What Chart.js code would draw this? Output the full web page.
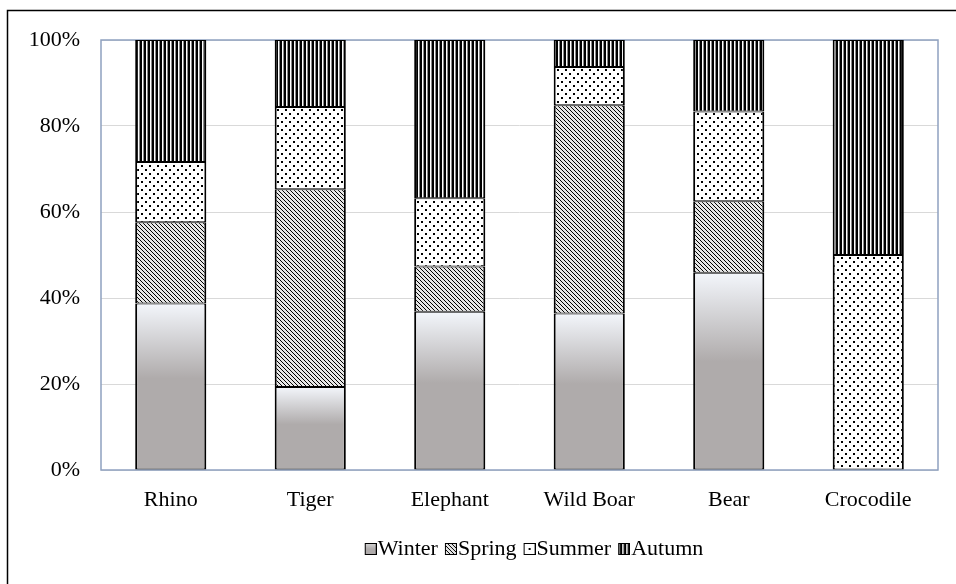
<!DOCTYPE html>
<html>
<head>
<meta charset="utf-8">
<script src="https://cdn.jsdelivr.net/npm/chart.js@4"></script>
<style>
  html, body { margin: 0; padding: 0; background: #fff; }
  #wrap { width: 956px; height: 584px; position: relative; }
</style>
</head>
<body>
<div id="wrap"><canvas id="c" width="956" height="584"></canvas></div>
<script>
const categories = ['Rhino', 'Tiger', 'Elephant', 'Wild Boar', 'Bear', 'Crocodile'];
const seriesNames = ['Winter', 'Spring', 'Summer', 'Autumn'];
const winter = [38.7, 19.3, 36.8, 36.4, 45.9, 0];
const spring = [18.9, 46.0, 10.5, 48.4, 16.6, 0];
const summer = [14.0, 19.1, 15.9, 8.9, 20.9, 50];
const autumn = [28.4, 15.6, 36.8, 6.3, 16.6, 50];
const yTicks = [0, 20, 40, 60, 80, 100];

const FONT = '"Liberation Serif", "Times New Roman", serif';
const FS = 22;
const GRAY = '#AFABAB';
const LIGHT = '#F3F6FB';

function makeTile(w, h, painter) {
  const c = document.createElement('canvas');
  c.width = w; c.height = h;
  const g = c.getContext('2d');
  painter(g, w, h);
  return c;
}
// Spring: dark downward diagonal on light gray
const springTile = makeTile(4, 4, (g) => {
  g.fillStyle = '#E6E6E6'; g.fillRect(0, 0, 4, 4);
  g.fillStyle = '#000';
  for (let y = 0; y < 4; y++) { g.fillRect(y % 4, y, 1, 1); }
});
// Summer: staggered dots on white
const summerTile = makeTile(8, 8, (g) => {
  g.fillStyle = '#fff'; g.fillRect(0, 0, 8, 8);
  g.fillStyle = '#000';
  g.fillRect(1, 1, 2, 2);
  g.fillRect(5, 5, 2, 2);
});
// Autumn: vertical lines
const autumnTile = makeTile(4, 4, (g) => {
  g.fillStyle = '#000'; g.fillRect(0, 0, 4, 4);
  g.fillStyle = '#fff'; g.fillRect(2, 0, 1, 4);
  g.fillStyle = '#8a8a8a'; g.fillRect(3, 0, 1, 4);
});

const cctx = document.getElementById('c').getContext('2d');
const springPat = cctx.createPattern(springTile, 'repeat');
const summerPat = cctx.createPattern(summerTile, 'repeat');
const autumnPat = cctx.createPattern(autumnTile, 'repeat');

function winterFill(ctx) {
  const chart = ctx.chart;
  if (!chart.chartArea || !chart.scales.y) return GRAY;
  const ys = chart.scales.y;
  const v = ctx.raw || 0;
  const top = ys.getPixelForValue(v);
  const bot = ys.getPixelForValue(0);
  if (bot - top < 1) return GRAY;
  const gr = chart.ctx.createLinearGradient(0, top, 0, bot);
  gr.addColorStop(0, LIGHT);
  gr.addColorStop(0.45, GRAY);
  gr.addColorStop(1, GRAY);
  return gr;
}

// legend images: transparent left padding, 12px box on the right
function legendImg(fillPainter) {
  return makeTile(22, 12, (g) => {
    fillPainter(g, 10, 0, 12, 12);
    g.strokeStyle = '#000'; g.lineWidth = 1;
    g.strokeRect(10.5, 0.5, 11, 11);
  });
}
const legendImgs = [
  legendImg((g, x, y, w, h) => {
    const gr = g.createLinearGradient(0, 0, 0, 12);
    gr.addColorStop(0, '#D9D9D9'); gr.addColorStop(0.5, GRAY); gr.addColorStop(1, GRAY);
    g.fillStyle = gr; g.fillRect(x, y, w, h);
  }),
  legendImg((g, x, y, w, h) => { g.fillStyle = g.createPattern(springTile, 'repeat'); g.fillRect(x, y, w, h); }),
  legendImg((g, x, y, w, h) => { g.fillStyle = '#fff'; g.fillRect(x, y, w, h); g.fillStyle = '#000'; g.fillRect(x + 5, y + 5, 2, 2); }),
  legendImg((g, x, y, w, h) => { g.fillStyle = g.createPattern(autumnTile, 'repeat'); g.fillRect(x, y, w, h); })
];

const barBorder = { left: 2, right: 2, top: 1, bottom: 1 };
function ds(label, data, bg) {
  return {
    label, data, backgroundColor: bg,
    borderColor: '#000', borderWidth: barBorder, borderSkipped: false,
    categoryPercentage: 0.51, barPercentage: 1
  };
}

const framePlugin = {
  id: 'frame',
  beforeDraw(chart) {
    const g = chart.ctx;
    g.save();
    g.fillStyle = '#fff'; g.fillRect(0, 0, chart.width, chart.height);
    g.strokeStyle = '#000'; g.lineWidth = 1.5;
    g.strokeRect(7.5, 10.5, 2000, 2000);
    g.restore();
  },
  beforeDatasetsDraw(chart) {
    const a = chart.chartArea, g = chart.ctx;
    g.save();
    g.strokeStyle = '#8FA1C0'; g.lineWidth = 1.5;
    g.strokeRect(a.left, a.top, a.right - a.left, a.bottom - a.top);
    g.restore();
  },
  afterLayout(chart) {
    const lg = chart.legend;
    if (lg) { const d = 65; lg.left += d; lg.right += d; }
  }
};

new Chart(document.getElementById('c'), {
  type: 'bar',
  data: {
    labels: categories,
    datasets: [
      ds(seriesNames[0], winter, winterFill),
      ds(seriesNames[1], spring, springPat),
      ds(seriesNames[2], summer, summerPat),
      ds(seriesNames[3], autumn, autumnPat)
    ]
  },
  options: {
    responsive: false,
    animation: false,
    devicePixelRatio: 1,
    layout: { padding: { left: 0, right: 18, top: 40, bottom: 14 } },
    plugins: {
      tooltip: { enabled: false },
      legend: {
        position: 'bottom',
        labels: {
          usePointStyle: true,
          boxWidth: 2,
          padding: 7,
          color: '#000',
          font: { family: FONT, size: FS },
          generateLabels(chart) {
            const items = Chart.defaults.plugins.legend.labels.generateLabels(chart);
            items.forEach((it, i) => { it.pointStyle = legendImgs[i]; });
            return items;
          }
        }
      }
    },
    scales: {
      x: {
        stacked: true,
        grid: { display: false, drawTicks: false },
        border: { display: false },
        ticks: { color: '#000', font: { family: FONT, size: FS }, padding: 17, maxRotation: 0 },
        afterFit(s) { s.height = 61; }
      },
      y: {
        stacked: true,
        min: 0, max: 100,
        afterBuildTicks(s) { s.ticks = yTicks.map(v => ({ value: v })); },
        grid: { color: '#D9D9D9', lineWidth: 1, drawTicks: false },
        border: { display: false },
        ticks: { color: '#000', font: { family: FONT, size: FS }, padding: 21, callback: v => v + '%' },
        afterFit(s) { s.width = 101; }
      }
    }
  },
  plugins: [framePlugin]
});
</script>
</body>
</html>
